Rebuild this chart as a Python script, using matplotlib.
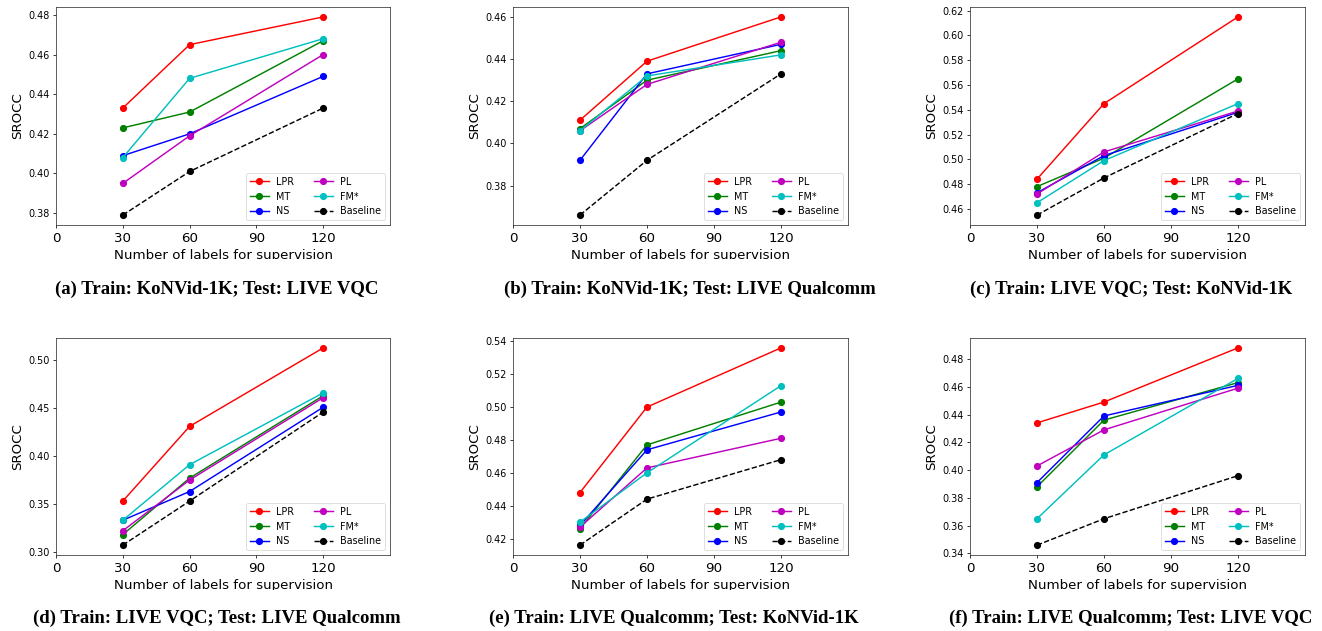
import matplotlib
matplotlib.use('Agg')
import matplotlib.pyplot as plt
from matplotlib.patches import Rectangle

# x values and methods
n_labels = [30, 60, 120]
methods = ['LPR', 'MT', 'NS', 'PL', 'FM*', 'Baseline']
colors = ['r', 'g', 'b', 'm', 'c', 'k']

# SROCC per method (rows follow `methods`)
srocc_a = [[0.433, 0.465, 0.479], [0.423, 0.431, 0.467], [0.409, 0.420, 0.449],
           [0.395, 0.419, 0.460], [0.408, 0.448, 0.468], [0.379, 0.401, 0.433]]
srocc_b = [[0.411, 0.439, 0.460], [0.407, 0.430, 0.444], [0.392, 0.433, 0.447],
           [0.406, 0.428, 0.448], [0.406, 0.432, 0.442], [0.366, 0.392, 0.433]]
srocc_c = [[0.484, 0.545, 0.615], [0.478, 0.501, 0.565], [0.473, 0.503, 0.538],
           [0.472, 0.506, 0.539], [0.465, 0.499, 0.545], [0.455, 0.485, 0.537]]
srocc_d = [[0.353, 0.431, 0.513], [0.318, 0.377, 0.463], [0.333, 0.363, 0.451],
           [0.322, 0.375, 0.461], [0.333, 0.391, 0.466], [0.307, 0.353, 0.446]]
srocc_e = [[0.448, 0.500, 0.536], [0.426, 0.477, 0.503], [0.428, 0.474, 0.497],
           [0.427, 0.463, 0.481], [0.430, 0.460, 0.513], [0.416, 0.444, 0.468]]
srocc_f = [[0.434, 0.449, 0.488], [0.388, 0.436, 0.463], [0.391, 0.439, 0.461],
           [0.403, 0.429, 0.459], [0.365, 0.411, 0.466], [0.346, 0.365, 0.396]]

captions = ['(a) Train: KoNVid-1K; Test: LIVE VQC',
            '(b) Train: KoNVid-1K; Test: LIVE Qualcomm',
            '(c) Train: LIVE VQC; Test: KoNVid-1K',
            '(d) Train: LIVE VQC; Test: LIVE Qualcomm',
            '(e) Train: LIVE Qualcomm; Test: KoNVid-1K',
            '(f) Train: LIVE Qualcomm; Test: LIVE VQC']

W, H = 1322, 631
fig = plt.figure(figsize=(W / 100, H / 100), dpi=100)

col_px = [(56, 390), (513, 848), (970, 1305)]
row_px = [(7, 225), (338, 555)]
cap_x = [217, 690, 1131, 217, 674, 1131]
cap_y = [289, 618]
s = 0.69  # the original panels were shrunk

for i, data in enumerate([srocc_a, srocc_b, srocc_c, srocc_d, srocc_e, srocc_f]):
    r, c = divmod(i, 3)
    l, rt = col_px[c]
    t, b = row_px[r]
    ax = fig.add_axes([l / W, 1 - b / H, (rt - l) / W, (b - t) / H])
    for m, vals, col in zip(methods, data, colors):
        ls = '--' if m == 'Baseline' else '-'
        ax.plot(n_labels, vals, color=col, ls=ls, marker='o', ms=6 * s, lw=1.5 * s, label=m)
    ax.set_xlim(0, 150)
    ax.set_xticks([0, 30, 60, 90, 120])
    ax.tick_params(axis='x', labelsize=14 * s, length=3.5 * s, width=0.8 * s, pad=3.5 * s)
    ax.tick_params(axis='y', labelsize=10 * s, length=3.5 * s, width=0.8 * s, pad=3.5 * s)
    ax.set_xlabel('Number of labels for supervision', fontsize=14 * s, labelpad=4 * s)
    ax.set_ylabel('SROCC', fontsize=14 * s, labelpad=4 * s)
    for sp in ax.spines.values():
        sp.set_linewidth(0.8 * s)
        sp.set_color('#333333')
    leg = ax.legend(loc='lower right', ncol=2, fontsize=10 * s)
    leg.get_frame().set_linewidth(0.8 * s)
    fig.text(cap_x[i] / W, 1 - cap_y[r] / H, captions[i], ha='center', va='center',
             fontsize=13.5, fontweight='bold', family='Liberation Serif')

# the source images cut the bottom of the x labels
for y0 in (259, 590):
    fig.patches.append(Rectangle((0, 1 - (y0 + 14) / H), 1, 14 / H, transform=fig.transFigure,
                                 facecolor='white', edgecolor='none', zorder=5))

fig.savefig('out.png', dpi=100)
